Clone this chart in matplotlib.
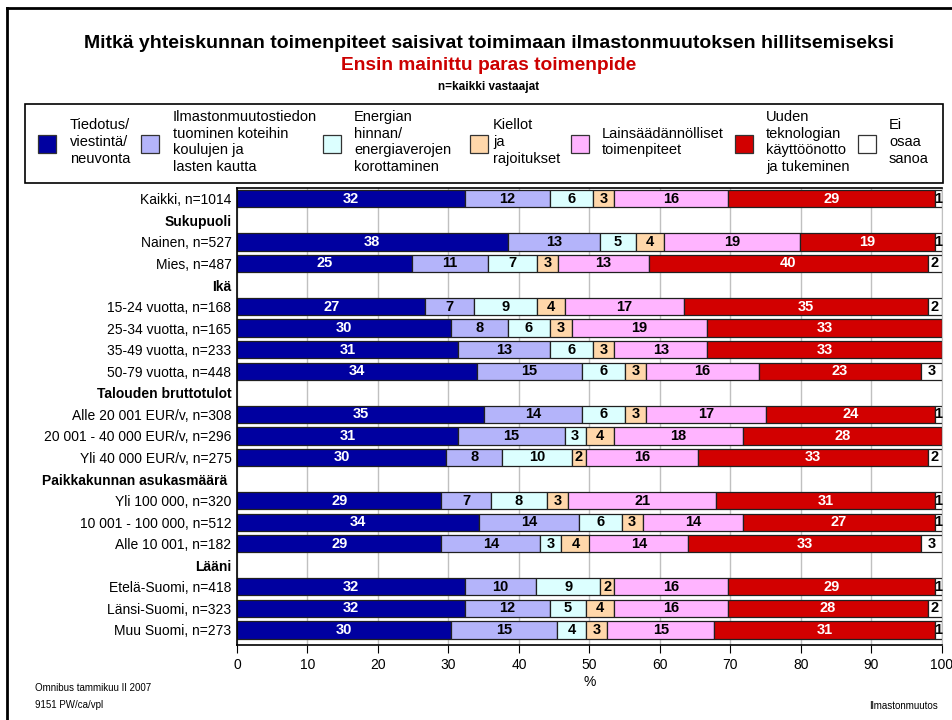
import numpy as np
import matplotlib
matplotlib.use('Agg')
import matplotlib.pyplot as plt
from matplotlib.patches import Rectangle
from matplotlib.lines import Line2D

plt.rcParams['font.family'] = ['Liberation Sans', 'DejaVu Sans']

# rows of the chart, group headers have no bar
rows = ["Kaikki, n=1014", "Sukupuoli", "Nainen, n=527", "Mies, n=487",
        "Ikä", "15-24 vuotta, n=168", "25-34 vuotta, n=165",
        "35-49 vuotta, n=233", "50-79 vuotta, n=448",
        "Talouden bruttotulot", "Alle 20 001 EUR/v, n=308",
        "20 001 - 40 000 EUR/v, n=296", "Yli 40 000 EUR/v, n=275",
        "Paikkakunnan asukasmäärä ", "Yli 100 000, n=320",
        "10 001 - 100 000, n=512", "Alle 10 001, n=182",
        "Lääni", "Etelä-Suomi, n=418", "Länsi-Suomi, n=323",
        "Muu Suomi, n=273"]
headers = ["Sukupuoli", "Ikä", "Talouden bruttotulot",
           "Paikkakunnan asukasmäärä ", "Lääni"]

legend_labels = ["Tiedotus/\nviestintä/\nneuvonta",
                 "Ilmastonmuutostiedon\ntuominen koteihin\nkoulujen ja\nlasten kautta",
                 "Energian\nhinnan/\nenergiaverojen\nkorottaminen",
                 "Kiellot\nja\nrajoitukset",
                 "Lainsäädännölliset\ntoimenpiteet",
                 "Uuden\nteknologian\nkäyttöönotto\nja tukeminen",
                 "Ei\nosaa\nsanoa"]
colors = ['#0000A0', '#B4B4FA', '#DCFFFF', '#FFD7AA', '#FFB4FF',
          '#D20000', '#FFFFFF']
text_colors = ['white', 'black', 'black', 'black', 'black', 'white', 'black']

# values (%) for the rows with a bar, in order
tiedotus = [32, 38, 25, 27, 30, 31, 34, 35, 31, 30, 29, 34, 29, 32, 32, 30]
koulut = [12, 13, 11, 7, 8, 13, 15, 14, 15, 8, 7, 14, 14, 10, 12, 15]
energia = [6, 5, 7, 9, 6, 6, 6, 6, 3, 10, 8, 6, 3, 9, 5, 4]
kiellot = [3, 4, 3, 4, 3, 3, 3, 3, 4, 2, 3, 3, 4, 2, 4, 3]
laki = [16, 19, 13, 17, 19, 13, 16, 17, 18, 16, 21, 14, 14, 16, 16, 15]
teknologia = [29, 19, 40, 35, 33, 33, 23, 24, 28, 33, 31, 27, 33, 29, 28, 31]
eos = [1, 1, 2, 2, 0, 0, 3, 1, 0, 2, 1, 1, 3, 1, 2, 1]

series = [tiedotus, koulut, energia, kiellot, laki, teknologia, eos]
vals = np.array(series, dtype=float)
# the shown percentages are rounded, the bars span the full 100 %
widths = vals * 100.0 / vals.sum(axis=0)

bar_rows = [i for i, r in enumerate(rows) if r not in headers]

fig = plt.figure(figsize=(9.53, 7.2), dpi=100)
W, H = 953.0, 720.0

# page frame (top and left edge)
fig.add_artist(Line2D([7/W, 7/W], [0, 1 - 8/H], color='black', lw=2))
fig.add_artist(Line2D([7/W, 1], [1 - 8/H, 1 - 8/H], color='black', lw=2))

fig.text(489/W, 1 - 43/H,
         'Mitkä yhteiskunnan toimenpiteet saisivat toimimaan ilmastonmuutoksen hillitsemiseksi',
         ha='center', va='center', fontsize=14, fontweight='bold')
fig.text(489/W, 1 - 65/H, 'Ensin mainittu paras toimenpide',
         ha='center', va='center', fontsize=13.8, fontweight='bold', color='#CC0000')
fig.text(489/W, 1 - 87/H, 'n=kaikki vastaajat',
         ha='center', va='center', fontsize=8.5, fontweight='bold')

# legend box
fig.add_artist(Rectangle((25/W, 1 - 183/H), (943 - 25)/W, (183 - 104)/H,
                         transform=fig.transFigure, fill=False,
                         edgecolor='black', lw=1.2))
patch_x = [38, 141, 323, 470, 571, 735, 858]
text_x = [70, 173, 354, 493, 602, 766, 889]
for px, tx, c, lab in zip(patch_x, text_x, colors, legend_labels):
    fig.add_artist(Rectangle((px/W, 1 - 153/H), 18/W, 18/H,
                             transform=fig.transFigure, facecolor=c,
                             edgecolor='#333333', lw=0.9))
    fig.text(tx/W, 1 - 142/H, lab, ha='left', va='center', fontsize=10.5,
             linespacing=1.24)

ax = fig.add_axes([237/W, 1 - 645/H, (942 - 237)/W, (645 - 188)/H])
ax.set_axisbelow(True)
ax.xaxis.grid(True, color='#C0C0C0', lw=1)

left = np.zeros(len(bar_rows))
for k in range(len(series)):
    ax.barh(bar_rows, widths[k], left=left, height=0.8, color=colors[k],
            edgecolor='#202020', lw=0.9)
    for j, y in enumerate(bar_rows):
        v = series[k][j]
        if v > 0:
            ax.text(left[j] + widths[k][j] / 2, y, str(v), ha='center',
                    va='center', fontsize=10.5, fontweight='bold',
                    color=text_colors[k])
    left = left + widths[k]

ax.set_xlim(0, 100)
ax.set_ylim(len(rows) - 0.3, -0.5)
ax.set_xticks(np.arange(0, 101, 10))
ax.tick_params(axis='x', labelsize=10, length=6, direction='out')
ax.set_yticks(range(len(rows)))
ax.set_yticklabels(rows, fontsize=10)
ax.tick_params(axis='y', length=0, pad=4)
for lbl in ax.get_yticklabels():
    if lbl.get_text() in headers:
        lbl.set_fontweight('bold')
ax.set_xlabel('%', fontsize=10, labelpad=2)
ax.spines['right'].set_color('#C0C0C0')
for s in ['left', 'bottom', 'top']:
    ax.spines[s].set_linewidth(1.2)

fig.text(35/W, 1 - 688/H, 'Omnibus tammikuu II 2007', fontsize=7, va='center')
fig.text(35/W, 1 - 705/H, '9151 PW/ca/vpl', fontsize=7, va='center')
fig.text(938/W, 1 - 706/H, 'Ilmastonmuutos', fontsize=7, va='center', ha='right')

fig.savefig('out.png', dpi=100)
